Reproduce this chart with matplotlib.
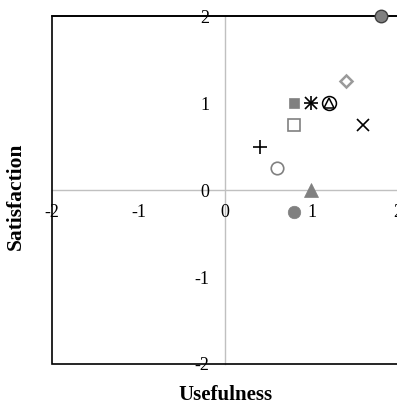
import matplotlib
matplotlib.use("Agg")
import matplotlib.pyplot as plt
from matplotlib.patches import Rectangle

plt.rcParams['font.family'] = ['Liberation Serif', 'DejaVu Serif']

# Usefulness / satisfaction ratings per item
usefulness   = [1.8, 1.4, 0.8, 1.0, 1.2, 0.8, 1.6, 0.4, 0.6, 1.0, 0.8]
satisfaction = [2.0, 1.25, 1.0, 1.0, 1.0, 0.75, 0.75, 0.5, 0.25, 0.0, -0.25]
tick_values  = [-2, -1, 0, 1, 2]
tick_labels  = ['-2', '-1', '0', '1', '2']

GREY = '#808080'
styles = [
    [dict(marker='o', ms=9, mfc=GREY, mec='#404040', mew=1)],
    [dict(marker='D', ms=6.5, mfc='white', mec='#9a9a9a', mew=1.8)],
    [dict(marker='s', ms=7, mfc=GREY, mec=GREY, mew=0.5)],
    [dict(marker='x', ms=8, mec='black', mew=1.2),
     dict(marker='+', ms=10, mec='black', mew=1.2)],
    [dict(marker='o', ms=10, mfc='white', mec='black', mew=1.1),
     dict(marker='^', ms=7, mfc='none', mec='black', mew=1.1)],
    [dict(marker='s', ms=8, mfc='white', mec=GREY, mew=1.2)],
    [dict(marker='x', ms=8, mec='black', mew=1.2)],
    [dict(marker='+', ms=10, mec='black', mew=1.2)],
    [dict(marker='o', ms=9, mfc='white', mec=GREY, mew=1.2)],
    [dict(marker='^', ms=10, mfc=GREY, mec=GREY, mew=0.5)],
    [dict(marker='o', ms=9, mfc=GREY, mec=GREY, mew=0.5)],
]

fig = plt.figure(figsize=(3.97, 4.08), dpi=100)
ax = fig.add_axes([52/397, 1 - 364/408, 346/397, 348/408])

for x, y, st in zip(usefulness, satisfaction, styles):
    for s in st:
        ax.plot([x], [y], linestyle='none', zorder=4, clip_on=False, **s)

ax.set_xlim(-2, 2)
ax.set_ylim(-2, 2)

# axes crossing at the origin in light grey
for side in ('bottom', 'left'):
    ax.spines[side].set_position(('data', 0))
    ax.spines[side].set_color('#c0c0c0')
    ax.spines[side].set_linewidth(1)
    ax.spines[side].set_zorder(1)
for side in ('top', 'right'):
    ax.spines[side].set_color('black')
    ax.spines[side].set_linewidth(1.2)

# plot-area border
ax.add_patch(Rectangle((0, 0), 1, 1, transform=ax.transAxes, fill=False,
                       edgecolor='black', linewidth=1.2, clip_on=False, zorder=2))

ax.set_xticks(tick_values, tick_labels)
ax.set_yticks(tick_values, tick_labels)
ax.tick_params(axis='both', length=0, labelsize=13)
ax.tick_params(axis='x', pad=10)
ax.tick_params(axis='y', pad=11)

fig.text(225/397, 1 - 400/408, 'Usefulness', ha='center', va='baseline',
         fontsize=15, fontweight='bold')
fig.text(16/397, 1 - 196/408, 'Satisfaction', ha='center', va='center',
         rotation=90, fontsize=15.5, fontweight='bold')

fig.savefig('out.png', dpi=100)
